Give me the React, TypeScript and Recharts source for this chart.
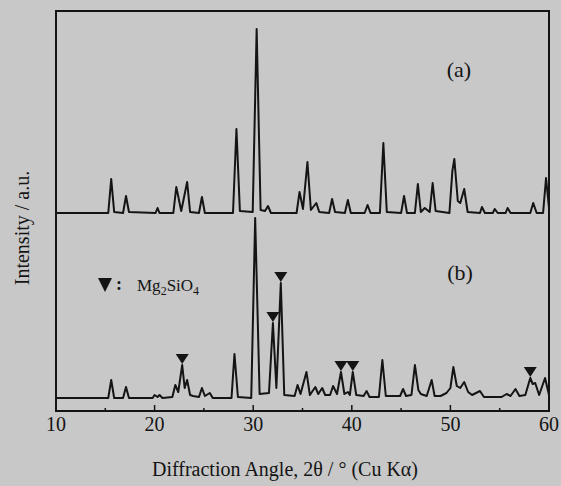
import {
  ComposedChart,
  Line,
  Scatter,
  XAxis,
  YAxis,
  ReferenceArea,
  ReferenceDot,
} from "recharts";

// XRD-Profile, [2θ, Höhe über Grundlinie]
const PATTERN_A: [number, number][] = [
  [10, 0], [15.3, 0], [15.6, 34], [15.9, 1], [16.8, 0], [17.1, 17], [17.4, 1],
  [20.1, 0], [20.3, 5], [20.5, 0], [21.9, 0], [22.2, 26], [22.7, 2], [23.3, 31],
  [23.6, 1], [24.5, 0], [24.8, 16], [25.1, 0], [27.95, 0], [28.3, 84], [28.65, 2],
  [29.95, 1], [30.35, 184], [30.75, 3], [31.2, 2], [31.5, 7], [31.8, 0], [34.4, 0],
  [34.7, 21], [35.05, 4], [35.5, 51], [35.85, 3], [36.4, 10], [36.7, 1], [37.7, 0],
  [38.0, 14], [38.3, 1], [39.3, 0], [39.6, 13], [39.9, 0], [41.3, 0], [41.6, 8],
  [41.9, 0], [42.85, 0], [43.2, 70], [43.55, 1], [45.0, 0], [45.3, 17], [45.6, 0],
  [46.4, 0], [46.7, 29], [47.0, 1], [47.4, 5], [47.9, 1], [48.2, 30], [48.5, 2],
  [49.9, 0], [50.2, 42], [50.4, 54], [50.75, 12], [51.0, 10], [51.4, 24], [51.75, 1],
  [53.0, 0], [53.2, 6], [53.5, 0], [54.3, 0], [54.5, 4], [54.8, 0], [55.6, 0],
  [55.8, 5], [56.1, 0], [58.1, 0], [58.4, 10], [58.75, 0], [59.4, 0], [59.7, 35],
  [60, 5],
];

const PATTERN_B: [number, number][] = [
  [10, 0], [15.3, 0], [15.6, 18], [15.9, 0], [16.8, 0], [17.1, 11], [17.4, 0],
  [19.8, 0], [20.0, 3], [20.3, 1], [20.5, 3], [20.8, 0], [21.8, 1], [22.1, 13],
  [22.4, 6], [22.8, 33], [23.05, 10], [23.3, 18], [23.6, 3], [23.9, 2], [24.5, 1],
  [24.8, 10], [25.1, 2], [25.6, 5], [25.9, 0], [27.8, 0], [28.1, 44], [28.45, 1],
  [29.8, 0], [30.2, 180], [30.65, 4], [31.6, 5], [32.0, 75], [32.35, 10], [32.8, 115],
  [33.15, 3], [34.2, 2], [34.5, 13], [34.8, 4], [35.4, 26], [35.75, 3], [36.3, 11],
  [36.6, 4], [37.0, 10], [37.3, 3], [37.8, 3], [38.1, 12], [38.5, 4], [38.9, 26],
  [39.25, 4], [39.6, 6], [39.8, 3], [40.1, 26], [40.45, 3], [41.2, 2], [41.5, 7],
  [41.8, 1], [42.75, 1], [43.1, 38], [43.45, 2], [44.9, 2], [45.2, 9], [45.5, 2],
  [46.05, 3], [46.4, 33], [46.75, 8], [47.0, 4], [47.6, 2], [48.1, 18], [48.4, 2],
  [49.0, 2], [49.6, 5], [50.0, 10], [50.3, 31], [50.65, 12], [51.0, 10], [51.4, 16],
  [51.8, 6], [52.2, 3], [53.0, 7], [53.4, 1], [55.2, 1], [55.7, 4], [56.1, 2],
  [56.6, 9], [57.0, 2], [57.6, 3], [58.1, 20], [58.35, 14], [58.6, 15], [59.0, 3],
  [59.6, 20], [60, 3],
];

// Mg2SiO4-Reflexe in (b)
const MG2SIO4_PEAKS: [number, number][] = [
  [22.8, 33], [32.0, 75], [32.8, 115], [38.9, 26], [40.1, 26], [58.1, 20],
];

const OFFSET_A = 198;
const OFFSET_B = 13;
const X_TICKS = [10, 15, 20, 25, 30, 35, 40, 45, 50, 55, 60];

const FONT = "'Liberation Serif', 'Times New Roman', serif";
const INK = "#141414";
const BG = "#c8c8c8";

const dataA = PATTERN_A.map(([x, y]) => ({ x, y: y + OFFSET_A }));
const dataB = PATTERN_B.map(([x, y]) => ({ x, y: y + OFFSET_B }));
const markers = MG2SIO4_PEAKS.map(([x, y]) => ({ x, y: y + OFFSET_B }));

function AngleTick(props: any) {
  const { x, y, payload } = props;
  const major = payload.value % 10 === 0;
  return (
    <g>
      <line x1={x} x2={x} y1={y} y2={y - (major ? 6 : 3)} stroke={INK} strokeWidth={1.5} />
      {major && (
        <text x={x} y={y + 20} textAnchor="middle" fontSize={20} fontFamily={FONT} fill={INK}>
          {payload.value}
        </text>
      )}
    </g>
  );
}

function Triangle(props: any) {
  const { cx, cy } = props;
  return (
    <polygon
      points={`${cx - 6.5},${cy - 11} ${cx + 6.5},${cy - 11} ${cx},${cy - 1}`}
      fill={INK}
    />
  );
}

function PanelLabel({ text }: { text: string }) {
  return (props: any) => {
    const { viewBox } = props;
    const cx = viewBox.x + (viewBox.width || 0) / 2;
    const cy = viewBox.y + (viewBox.height || 0) / 2;
    return (
      <text x={cx} y={cy + 7} textAnchor="middle" fontSize={22} fontFamily={FONT} fill={INK}>
        {text}
      </text>
    );
  };
}

function LegendLabel(props: any) {
  const { viewBox } = props;
  const cx = viewBox.x + (viewBox.width || 0) / 2;
  const cy = viewBox.y + (viewBox.height || 0) / 2;
  return (
    <g>
      <polygon points={`${cx - 7},${cy - 7} ${cx + 7},${cy - 7} ${cx},${cy + 7}`} fill={INK} />
      <text x={cx + 11} y={cy + 5} fontSize={18} fontFamily={FONT} fill={INK} fontWeight="bold">
        :
      </text>
      <text x={cx + 32} y={cy + 6} fontSize={17} fontFamily={FONT} fill={INK}>
        Mg
        <tspan fontSize={12} dy={4}>2</tspan>
        <tspan dy={-4}>SiO</tspan>
        <tspan fontSize={12} dy={4}>4</tspan>
      </text>
    </g>
  );
}

export default function App() {
  return (
    <div
      style={{
        position: "absolute",
        left: 0,
        top: 0,
        width: 561,
        height: 486,
        background: BG,
      }}
    >
      <ComposedChart
        width={561}
        height={486}
        margin={{ top: 11, right: 12, left: 0, bottom: 0 }}
      >
        <XAxis
          type="number"
          dataKey="x"
          domain={[10, 60]}
          ticks={X_TICKS}
          allowDataOverflow
          axisLine={false}
          tickLine={false}
          tickSize={0}
          tickMargin={0}
          tick={<AngleTick />}
          height={75}
          label={{
            content: () => (
              <text
                x={285}
                y={476}
                textAnchor="middle"
                fontSize={20}
                fontFamily={FONT}
                fill={INK}
              >
                Diffraction Angle, 2θ / ° (Cu Kα)
              </text>
            ),
          }}
        />
        <YAxis
          type="number"
          domain={[0, 400]}
          allowDataOverflow
          width={56}
          tick={false}
          tickLine={false}
          axisLine={false}
          label={{
            content: () => (
              <text
                x={29}
                y={228}
                transform="rotate(-90 29 228)"
                textAnchor="middle"
                fontSize={20}
                fontFamily={FONT}
                fill={INK}
              >
                Intensity / a.u.
              </text>
            ),
          }}
        />
        <ReferenceArea
          x1={10}
          x2={60}
          y1={0}
          y2={400}
          fill="none"
          stroke={INK}
          strokeWidth={2}
          ifOverflow="visible"
        />
        <Line
          data={dataA}
          dataKey="y"
          type="linear"
          stroke={INK}
          strokeWidth={2}
          strokeLinejoin="round"
          dot={false}
          isAnimationActive={false}
        />
        <Line
          data={dataB}
          dataKey="y"
          type="linear"
          stroke={INK}
          strokeWidth={2}
          strokeLinejoin="round"
          dot={false}
          isAnimationActive={false}
        />
        <Scatter
          data={markers}
          dataKey="y"
          shape={<Triangle />}
          isAnimationActive={false}
        />
        <ReferenceDot x={50.87} y={341} r={0} stroke="none" label={{ content: PanelLabel({ text: "(a)" }) }} />
        <ReferenceDot x={50.97} y={138} r={0} stroke="none" label={{ content: PanelLabel({ text: "(b)" }) }} />
        <ReferenceDot x={14.97} y={126} r={0} stroke="none" label={{ content: LegendLabel }} />
      </ComposedChart>
    </div>
  );
}
